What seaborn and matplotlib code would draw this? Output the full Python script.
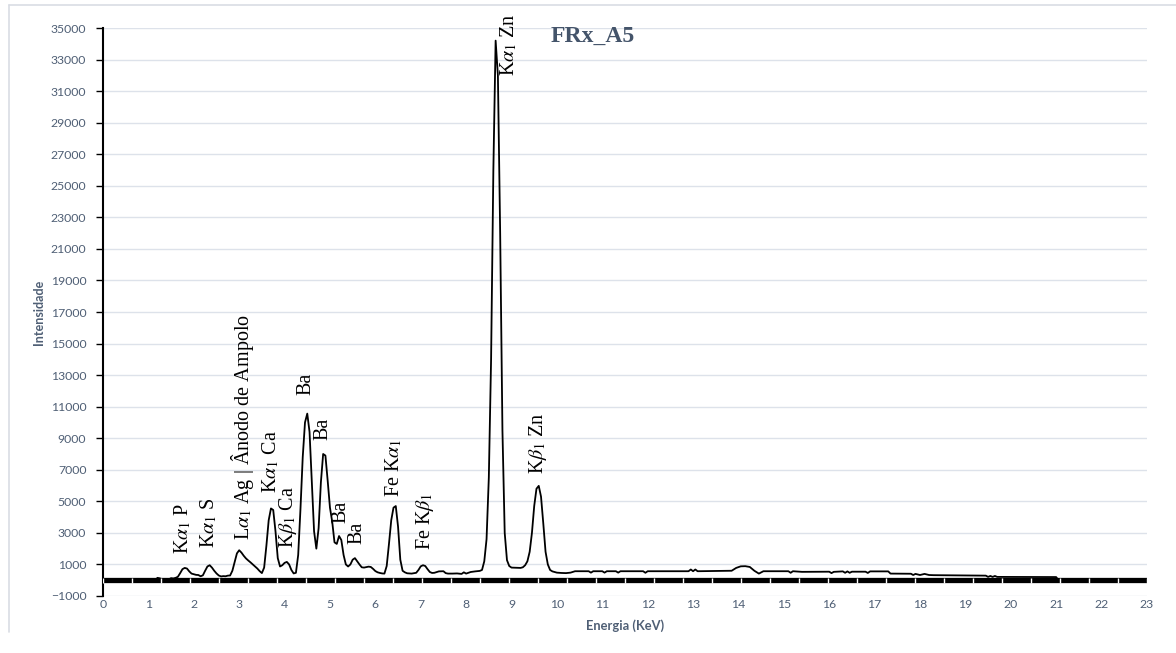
import matplotlib
matplotlib.use("Agg")
import matplotlib.pyplot as plt
import numpy as np
import pandas as pd
import seaborn as sns
from matplotlib.lines import Line2D

# Espectro de fluorescência de raios X (amostra A5)
energia = [
    0.00, 1.15, 1.20, 1.25, 1.30, 1.35, 1.40, 1.45, 1.50, 1.55, 1.60, 1.65, 1.70, 1.75,
    1.80, 1.85, 1.90, 1.95, 2.00, 2.05, 2.10, 2.15, 2.20, 2.25, 2.30, 2.35, 2.40, 2.45,
    2.50, 2.55, 2.60, 2.65, 2.70, 2.75, 2.80, 2.85, 2.90, 2.95, 3.00, 3.05, 3.10, 3.15,
    3.20, 3.25, 3.30, 3.35, 3.40, 3.45, 3.50, 3.55, 3.60, 3.65, 3.70, 3.75, 3.80, 3.85,
    3.90, 3.95, 4.00, 4.05, 4.10, 4.15, 4.20, 4.25, 4.30, 4.35, 4.40, 4.45, 4.50, 4.55,
    4.60, 4.65, 4.70, 4.75, 4.80, 4.85, 4.90, 4.95, 5.00, 5.05, 5.10, 5.15, 5.20, 5.25,
    5.30, 5.35, 5.40, 5.45, 5.50, 5.55, 5.60, 5.65, 5.70, 5.75, 5.80, 5.85, 5.90, 5.95,
    6.00, 6.05, 6.10, 6.15, 6.20, 6.25, 6.30, 6.35, 6.40, 6.45, 6.50, 6.55, 6.60, 6.65,
    6.70, 6.80, 6.90, 6.95, 7.00, 7.05, 7.10, 7.15, 7.20, 7.25, 7.30, 7.40, 7.50, 7.55,
    7.60, 7.70, 7.80, 7.90, 7.95, 8.00, 8.10, 8.20, 8.30, 8.35, 8.40, 8.45, 8.50, 8.55,
    8.60, 8.65, 8.70, 8.75, 8.80, 8.85, 8.90, 8.95, 9.00, 9.10, 9.20, 9.25, 9.30, 9.35,
    9.40, 9.45, 9.50, 9.55, 9.60, 9.65, 9.70, 9.75, 9.80, 9.85, 9.90, 10.00, 10.10, 10.20,
    10.30, 10.40, 10.70, 10.75, 10.80, 11.00, 11.05, 11.10, 11.30, 11.35, 11.40, 11.90,
    11.95, 12.00, 12.90, 12.95, 13.00, 13.05, 13.10, 13.85, 13.95, 14.05, 14.15, 14.25,
    14.35, 14.45, 14.55, 15.10, 15.15, 15.20, 15.40, 16.00, 16.05, 16.10, 16.30, 16.35,
    16.40, 16.45, 16.50, 16.80, 16.85, 16.90, 17.30, 17.35, 17.80, 17.85, 17.90, 18.00,
    18.10, 18.20, 18.30, 19.45, 19.50, 19.55, 19.60, 19.65, 19.70, 21.00, 21.05, 23.00,
]
intensidade = [
    0, 0, 150, 120, 60, 40, 80, 60, 130, 110, 150, 220, 450, 700,
    780, 740, 560, 420, 380, 340, 330, 250, 310, 600, 870, 950, 800, 600,
    430, 300, 240, 260, 250, 290, 300, 600, 1150, 1700, 1900, 1750, 1550, 1380,
    1250, 1130, 1000, 870, 740, 580, 450, 800, 2200, 3800, 4550, 4450, 3100, 1400,
    870, 950, 1100, 1160, 1000, 650, 430, 470, 1600, 4500, 7800, 10000, 10560, 9400,
    6200, 3100, 2000, 3300, 6200, 8000, 7900, 6300, 4600, 3700, 2400, 2300, 2800, 2550,
    1600, 1000, 870, 1000, 1300, 1400, 1200, 1000, 820, 800, 830, 860, 840, 720,
    580, 500, 460, 430, 420, 900, 2300, 3800, 4600, 4700, 3400, 1300, 600, 500,
    440, 420, 470, 650, 880, 950, 900, 700, 520, 460, 470, 560, 570, 450,
    420, 420, 430, 400, 500, 420, 520, 560, 590, 650, 1200, 2600, 6500, 14000,
    26000, 34200, 32000, 22000, 9500, 3000, 1270, 900, 800, 790, 780, 820, 950, 1200,
    1800, 3000, 4700, 5800, 5980, 5300, 3600, 1800, 1000, 650, 560, 480, 460, 450,
    480, 570, 570, 480, 570, 570, 480, 570, 570, 480, 570, 570,
    470, 570, 570, 680, 570, 680, 570, 600, 780, 880, 890, 840,
    600, 420, 570, 570, 470, 570, 530, 540, 450, 530, 560, 470,
    560, 470, 540, 540, 460, 560, 560, 420, 410, 330, 400, 330,
    400, 330, 320, 290, 210, 270, 210, 270, 210, 200, 0, 0,
]

# Rótulos das linhas de emissão (texto, energia, altura da base do texto)
rotulos = [
    r"K$\alpha_1$ P",
    r"K$\alpha_1$ S",
    r"L$\alpha_1$ Ag | Ânodo de Ampolo",
    r"K$\alpha_1$ Ca",
    r"K$\beta_1$ Ca",
    "Ba",
    "Ba",
    "Ba",
    "Ba",
    r"Fe K$\alpha_1$",
    r"Fe K$\beta_1$",
    r"K$\alpha_1$ Zn",
    r"K$\beta_1$ Zn",
]
rotulos_x = [1.76, 2.34, 3.07, 3.69, 4.08, 4.47, 4.85, 5.24, 5.59, 6.40, 7.09, 8.95, 9.59]
rotulos_y = [1650, 2030, 2530, 5510, 2030, 11720, 8900, 3630, 2320, 5280, 1900, 31940, 6760]

titulo = "FRx_A5"
eixo_x_ticks = list(range(0, 24))
eixo_y_ticks = list(range(-1000, 35001, 2000))

cor_texto = "#4f5f75"
cor_grade = "#dde2ea"

sns.set_theme(style="white")
plt.rcParams["font.family"] = ["Lato", "DejaVu Sans"]
plt.rcParams["mathtext.fontset"] = "stix"

fig = plt.figure(figsize=(11.76, 6.53), dpi=100)
ax = fig.add_axes([0.0876, 0.0873, 0.8877, 0.8698])

df = pd.DataFrame({"Energia": energia, "Intensidade": intensidade})
sns.lineplot(data=df, x="Energia", y="Intensidade", ax=ax, color="black",
             linewidth=1.3, estimator=None, sort=False, zorder=2)

# Faixa preta na linha de base com marcas brancas
ax.axhline(0, color="black", linewidth=3.8, zorder=2.5)
ax.vlines(np.linspace(0, 23, 37), -160, 110, color="white", linewidth=1.0, zorder=2.6)

ax.set_xlim(0, 23)
ax.set_ylim(-1000, 35000)
ax.set_xticks(eixo_x_ticks)
ax.set_yticks(eixo_y_ticks)
ax.yaxis.grid(True, color=cor_grade, linewidth=1.0)
ax.xaxis.grid(False)
ax.set_axisbelow(True)

for lado in ["top", "right", "bottom"]:
    ax.spines[lado].set_visible(False)
ax.spines["left"].set_color("black")
ax.spines["left"].set_linewidth(1.5)

ax.tick_params(axis="y", length=5, width=1, color="black", direction="out",
               labelsize=8.8, labelcolor=cor_texto, pad=7, left=True)
ax.tick_params(axis="x", length=0, labelsize=8.8, labelcolor=cor_texto, pad=2)

ax.set_xlabel("Energia (KeV)", fontsize=9.3, fontweight="bold", color=cor_texto, labelpad=7)
ax.set_ylabel("Intensidade", fontsize=9.0, fontweight="bold", color=cor_texto, labelpad=4)

for txt, xr, yr in zip(rotulos, rotulos_x, rotulos_y):
    ax.text(xr, yr, txt, rotation=90, ha="center", va="bottom", fontsize=14.5,
            family=["Liberation Serif", "DejaVu Serif"], color="black", zorder=5)

ax.text(10.8, 34500, titulo, ha="center", va="center", fontsize=17,
        fontweight="bold", family=["Liberation Serif", "DejaVu Serif"], color="#44546a")

# Moldura clara do gráfico
fig.add_artist(Line2D([9 / 1176, 9 / 1176], [1 - 632 / 653, 1 - 5 / 653],
                      transform=fig.transFigure, color="#d9dde4", linewidth=1.2))
fig.add_artist(Line2D([9 / 1176, 1.0], [1 - 5 / 653, 1 - 5 / 653],
                      transform=fig.transFigure, color="#d9dde4", linewidth=1.2))

fig.savefig("out.png", dpi=100, facecolor="white")
